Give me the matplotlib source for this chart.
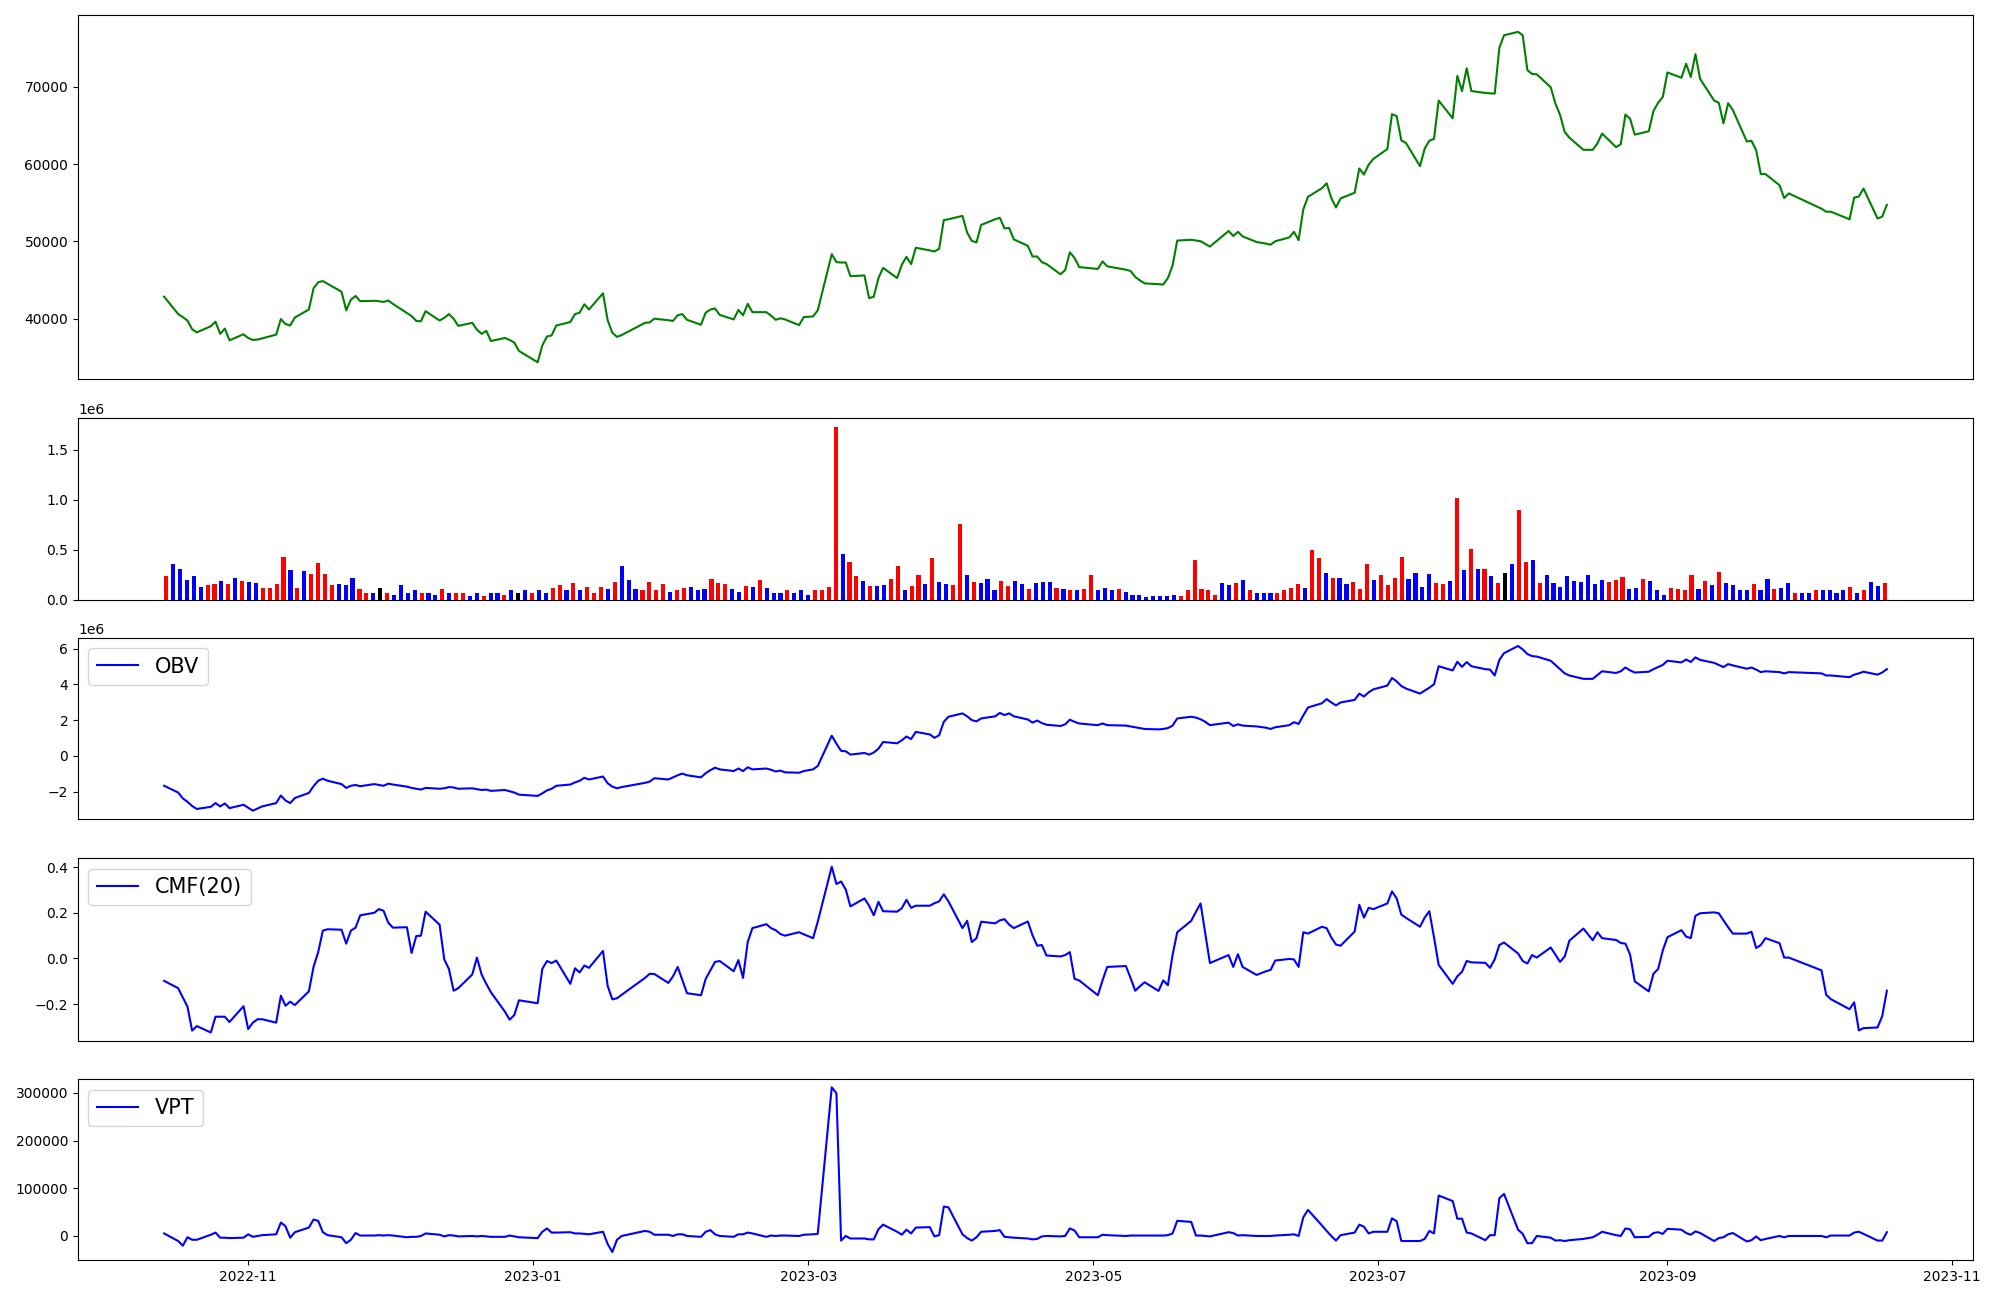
import numpy as np
import pandas as pd
import matplotlib
matplotlib.use("Agg")
import matplotlib.pyplot as plt

# ---------------- calendar (KRX trading days) ----------------
holidays = ["2022-12-30", "2023-01-23", "2023-01-24", "2023-03-01", "2023-05-01",
            "2023-05-05", "2023-05-29", "2023-06-06", "2023-08-15", "2023-09-28",
            "2023-09-29", "2023-10-02", "2023-10-03", "2023-10-09"]
dates = pd.bdate_range("2022-10-14", "2023-10-18")
dates = dates[~dates.isin(pd.to_datetime(holidays))]

# ---------------- close price ----------------
close = [
    42860, 40620, 40220, 39770, 38650, 38250, 39040, 39630, 38060, 38740, 37220, 38010,
    37520, 37270, 37320, 37470, 37960, 39970, 39330, 39140, 40170, 41200, 43940, 44730,
    44880, 44530, 43500, 41100, 42470, 42960, 42280, 42330, 42280, 42180,
    42370, 41930, 40760, 40360, 39730, 39680, 40990, 39780, 40120, 40610, 40020, 39090,
    39480, 38600, 38060, 38450, 37130, 37520, 37270, 36930, 35850,
    34380, 36540, 37720, 37860, 39140, 39580, 40610, 40800, 41880, 41200, 43300, 39820,
    38200, 37670, 37900, 39480, 39530, 40020, 39820, 39730,
    40460, 40610, 39870, 39240, 40800, 41200, 41340, 40510, 39920, 41150, 40460, 41940,
    40860, 40860, 40410, 39870, 40070, 39920, 39190, 40220,
    40310, 41100, 48360, 47330, 47280, 47280, 45510, 45610, 42670, 42860, 45270, 46590,
    45270, 46980, 48010, 47080, 49190, 48850, 48700, 49050, 52770, 52870,
    53310, 51150, 50080, 49880, 52140, 52870, 53070, 51690, 51740, 50270, 49440, 48060,
    48060, 47330, 47080, 45760, 46300, 48600, 47870, 46690,
    46450, 47430, 46790, 46350, 46200, 45420, 44970, 44580, 44480, 44430, 45270, 46890,
    50120, 50220, 50120, 50030, 49680, 49340, 51350, 50710,
    51250, 50660, 49930, 49730, 49580, 50030, 50520, 51250, 50170, 54150, 55770, 56890,
    57530, 55620, 54390, 55570, 56300, 59440, 58660, 59930, 60670,
    61950, 66460, 66210, 63070, 62730, 59740, 61990, 63020, 63270, 68220, 65920, 71410,
    69450, 72390, 69450, 69200, 69160, 69110, 75040, 76660, 77100,
    76660, 72150, 71660, 71610, 69940, 67830, 66360, 64150, 63420, 61850, 61850, 62680,
    63960, 62190, 62580, 66410, 65870, 63810, 64250, 66850, 67930, 68670,
    71850, 71170, 72980, 71260, 74210, 71020, 68220, 67930, 65280, 67880, 67000, 62930,
    63020, 61800, 58710, 58710, 57280, 55620, 56210,
    54240, 53850, 53850, 52870, 55670, 55810, 56840, 52970, 53210, 54740,
]

# ---------------- volume (thousand shares) ----------------
volume_k = [
    238, 359, 310, 200, 238, 129, 148, 159, 189, 159, 219, 189, 178, 170, 117, 117, 159, 428, 299, 117,
    288, 257, 367, 257, 148, 159, 148, 219, 110, 61, 61, 117, 61, 49, 148, 61, 91, 61, 61, 49,
    110, 68, 61, 68, 38, 68, 38, 61, 61, 49, 91, 61, 91, 61, 98, 61, 117, 148, 98, 170,
    91, 129, 68, 129, 110, 178, 337, 200, 110, 91, 178, 91, 159, 79, 98, 117, 129, 98, 110, 208,
    170, 159, 110, 79, 140, 129, 200, 117, 61, 61, 91, 61, 98, 49, 98, 98, 129, 1725, 458, 378,
    238, 189, 140, 140, 148, 208, 337, 98, 140, 250, 159, 416, 178, 159, 148, 757, 250, 178, 170, 208,
    91, 189, 140, 189, 159, 110, 170, 178, 178, 117, 110, 91, 91, 110, 250, 98, 117, 91, 110, 79,
    49, 49, 30, 38, 38, 38, 49, 38, 91, 397, 110, 98, 49, 170, 148, 170, 200, 91, 61, 61,
    68, 68, 98, 117, 159, 117, 500, 416, 269, 219, 219, 159, 178, 110, 359, 200, 250, 148, 219, 428,
    208, 269, 129, 257, 170, 159, 189, 1018, 299, 507, 310, 310, 238, 170, 269, 359, 897, 378, 397, 170,
    250, 170, 129, 238, 189, 178, 250, 159, 200, 178, 200, 227, 110, 117, 208, 189, 98, 49, 117, 110,
    98, 250, 110, 189, 148, 280, 170, 148, 91, 98, 159, 91, 208, 110, 117, 170, 68, 68, 68, 98,
    91, 91, 61, 91, 129, 68, 98, 178, 140, 170,
]

# candle direction of each day (10 days per group):
# u = close above open, d = close below open, f = unchanged
candle_groups = [
    "uddddduudu", "dudduuuudu", "duuuuddduu", "dfuddddudd", "uduudduddu",
    "dfdudduudu", "duuududddu", "uuuduudddu", "uuddududdd", "uddduuuudu",
    "ududduuduu", "dudduududd", "duuddudddu", "duduudddud", "ddddddduuu",
    "uuuddududd", "duuuuduudu", "dduuuduuuu", "dddduududu", "dudufduudu",
    "dddddddddu", "uudduddduu", "uudududddd", "uddudduddu", "ddddududdu",
]
candle = list("".join(candle_groups))

# ---------------- indicators ----------------
obv_m = [
    -1.680, -2.057, -2.387, -2.576, -2.812, -2.977, -2.859, -2.647, -2.835, -2.670, -2.930, -2.741,
    -2.906, -3.071, -2.953, -2.835, -2.647, -2.222, -2.505, -2.647, -2.364, -2.081, -1.703, -1.397,
    -1.279, -1.397, -1.585, -1.798, -1.680, -1.633, -1.703, -1.585, -1.633, -1.680,
    -1.562, -1.609, -1.727, -1.798, -1.845, -1.892, -1.798, -1.845, -1.821, -1.751, -1.774, -1.845,
    -1.821, -1.868, -1.916, -1.892, -1.963, -1.916, -1.986, -2.057, -2.175,
    -2.246, -2.104, -1.939, -1.845, -1.680, -1.609, -1.491, -1.397, -1.232, -1.326, -1.161, -1.538,
    -1.727, -1.821, -1.751, -1.515, -1.444, -1.255, -1.326, -1.208,
    -1.090, -0.996, -1.090, -1.208, -0.972, -0.807, -0.666, -0.760, -0.854, -0.713, -0.854, -0.642,
    -0.760, -0.713, -0.784, -0.878, -0.831, -0.925, -0.949, -0.854,
    -0.760, -0.572, 1.126, 0.678, 0.277, 0.254, 0.065, 0.160, 0.065, 0.183, 0.395, 0.773,
    0.702, 0.867, 1.079, 0.938, 1.339, 1.197, 1.008, 1.150, 1.904, 2.187,
    2.376, 2.211, 1.999, 1.928, 2.093, 2.211, 2.400, 2.282, 2.376, 2.211, 2.034, 1.857,
    1.975, 1.834, 1.739, 1.669, 1.763, 2.022, 1.904, 1.810,
    1.716, 1.810, 1.716, 1.692, 1.645, 1.598, 1.551, 1.504, 1.480, 1.504, 1.551, 1.692,
    2.093, 2.187, 2.140, 2.046, 1.904, 1.716, 1.857, 1.669,
    1.763, 1.692, 1.645, 1.574, 1.504, 1.598, 1.716, 1.881, 1.787, 2.258, 2.706, 2.942,
    3.178, 2.989, 2.824, 2.989, 3.131, 3.484, 3.319, 3.555, 3.720,
    3.932, 4.357, 4.168, 3.909, 3.767, 3.484, 3.649, 3.814, 4.003, 5.017, 4.781, 5.265,
    4.980, 5.253, 5.017, 4.852, 4.828, 4.498, 5.371, 5.748, 6.149,
    5.960, 5.701, 5.583, 5.559, 5.323, 5.088, 4.852, 4.616, 4.498, 4.310, 4.310, 4.522,
    4.734, 4.640, 4.734, 4.946, 4.781, 4.663, 4.710, 4.852, 4.970, 5.088,
    5.323, 5.229, 5.394, 5.253, 5.512, 5.371, 5.206, 5.088, 4.970, 5.135, 5.064, 4.876,
    4.946, 4.828, 4.687, 4.734, 4.687, 4.616, 4.687,
    4.616, 4.498, 4.498, 4.404, 4.545, 4.616, 4.710, 4.545, 4.663, 4.852,
]

cmf20 = [
    -0.098, -0.130, -0.170, -0.211, -0.316, -0.296, -0.324, -0.255, -0.255, -0.255, -0.278, -0.209,
    -0.309, -0.281, -0.266, -0.266, -0.281, -0.163, -0.207, -0.189, -0.204, -0.144, -0.037, 0.028,
    0.122, 0.128, 0.126, 0.065, 0.122, 0.135, 0.189, 0.200, 0.216, 0.209,
    0.157, 0.135, 0.137, 0.024, 0.098, 0.100, 0.205, 0.148, -0.004, -0.046, -0.141, -0.130,
    -0.070, 0.004, -0.070, -0.111, -0.148, -0.233, -0.268, -0.248, -0.183,
    -0.196, -0.046, -0.011, -0.020, -0.009, -0.111, -0.043, -0.061, -0.031, -0.041, 0.033, -0.120,
    -0.179, -0.174, -0.159, -0.085, -0.067, -0.068, -0.107, -0.078,
    -0.037, -0.094, -0.152, -0.161, -0.089, -0.052, -0.015, -0.011, -0.056, -0.007, -0.085, 0.072,
    0.133, 0.150, 0.133, 0.124, 0.107, 0.100, 0.115, 0.106,
    0.089, 0.161, 0.402, 0.326, 0.337, 0.302, 0.228, 0.263, 0.231, 0.189, 0.248, 0.207,
    0.205, 0.220, 0.257, 0.222, 0.231, 0.231, 0.242, 0.250, 0.281, 0.250,
    0.133, 0.165, 0.072, 0.089, 0.161, 0.154, 0.167, 0.172, 0.148, 0.133, 0.162, 0.102,
    0.056, 0.059, 0.013, 0.009, 0.015, 0.028, -0.089, -0.096,
    -0.161, -0.096, -0.037, -0.033, -0.085, -0.141, -0.122, -0.104, -0.142, -0.096, -0.117, 0.015,
    0.115, 0.165, 0.204, 0.241, 0.111, -0.020, 0.015, -0.037,
    0.019, -0.037, -0.072, -0.056, -0.050, -0.009, -0.002, -0.004, -0.037, 0.115, 0.109, 0.139,
    0.133, 0.092, 0.061, 0.056, 0.118, 0.235, 0.179, 0.222, 0.216,
    0.241, 0.294, 0.263, 0.192, 0.178, 0.139, 0.179, 0.207, 0.093, -0.028, -0.111, -0.078,
    -0.058, -0.011, -0.017, -0.019, -0.041, -0.004, 0.059, 0.070, 0.022,
    -0.011, -0.022, 0.015, 0.004, 0.048, 0.017, -0.015, 0.009, 0.078, 0.131, 0.080, 0.115,
    0.089, 0.081, 0.068, 0.065, 0.017, -0.100, -0.144, -0.067, -0.046, 0.035,
    0.093, 0.124, 0.096, 0.089, 0.187, 0.198, 0.202, 0.198, 0.167, 0.137, 0.109, 0.109,
    0.117, 0.046, 0.059, 0.089, 0.067, 0.004, 0.004,
    -0.052, -0.159, -0.178, -0.222, -0.192, -0.315, -0.305, -0.302, -0.253, -0.141,
]

vpt_k = [
    5.1, -10.8, -20.6, -2.9, -8.2, -8.2, 2.4, 6.9, -3.8, -3.8, -4.7, -3.8,
    3.3, -2.0, -0.2, 1.5, 3.3, 28.0, 20.1, -3.8, 7.7, 17.4, 34.2, 31.6,
    7.7, 1.5, -2.9, -15.3, -8.2, 6.0, 0.7, 0.7, 1.5, 0.7,
    1.5, 0.7, -2.9, -2.0, -2.0, -0.2, 5.1, 2.4, -1.1, 1.5, 0.7, -1.1,
    -0.2, -1.1, -0.2, -1.1, -2.0, -2.0, 0.7, -1.1, -2.9,
    -4.7, 8.6, 15.6, 6.9, 6.9, 7.7, 5.1, 5.1, 4.2, 3.3, 8.6, -17.0,
    -33.8, -8.2, -0.2, 10.4, 8.6, 2.4, 2.4, -0.2,
    3.3, 3.3, -0.2, -2.0, 8.6, 12.1, 3.3, -0.2, -2.0, 3.3, 3.3, 6.9,
    5.1, -2.0, 0.7, -0.2, 0.7, 0.7, -0.2, 2.4,
    3.3, 4.2, 311.6, 299.3, -9.9, -0.2, -5.5, -5.5, -7.3, -7.3, 13.9, 23.6,
    8.6, 2.4, 13.0, 5.1, 17.4, 18.3, -1.1, 1.5, 61.6, 59.8,
    3.3, -4.7, -9.9, -2.9, 8.6, 10.4, 12.1, -2.0, -2.9, -3.8, -5.5, -7.3,
    -6.4, -1.1, -0.2, -1.1, -0.2, 15.6, 11.3, -2.9,
    -2.9, 2.4, 1.5, -0.2, 0.7, 0.7, 0.7, 0.7, 0.7, 0.7, 1.5, 5.1,
    31.6, 29.3, 0.7, 0.7, -0.2, -1.1, 7.7, 6.0,
    0.7, 1.5, -0.2, -0.2, -0.2, 0.7, 2.4, 3.3, -0.2, 38.7, 54.5, 21.8,
    10.4, -0.2, -9.9, 1.5, 6.9, 23.6, 19.2, 5.1, 8.6,
    8.6, 36.9, 30.7, -10.8, -10.8, -10.8, -6.4, 10.4, 5.1, 84.6, 73.1, 36.0,
    36.0, 6.9, 5.1, -9.1, 1.5, 1.5, 79.3, 88.1, 13.0,
    4.2, -15.3, -15.3, -0.2, -3.8, -9.9, -9.1, -10.8, -9.1, -6.4, -2.9, 2.4,
    8.6, 1.5, -0.2, 15.6, 13.9, -2.9, -2.0, 6.0, 7.7, 4.2,
    14.8, 13.0, 6.0, 2.4, 9.5, 6.0, -10.8, -4.7, -2.9, 3.3, 6.0, -11.7,
    -9.1, -1.1, -9.1, -6.4, -0.2, -2.9, -0.2,
    -0.2, -2.9, 0.7, 0.7, 6.9, 8.6, 4.2, -9.9, -9.9, 7.7,
]

n = len(dates)
print(n, len(close), len(volume_k), len(candle), len(obv_m), len(cmf20), len(vpt_k))

colour_of = {"u": "red", "d": "blue", "f": "black"}
bar_colors = [colour_of[c] for c in candle]

fig = plt.figure(figsize=(20, 13), dpi=100)
L, W = 0.039, 0.9475
ax1 = fig.add_axes([L, 0.7086, W, 0.2796])
ax2 = fig.add_axes([L, 0.5388, W, 0.1393])
ax3 = fig.add_axes([L, 0.3701, W, 0.1393])
ax4 = fig.add_axes([L, 0.1994, W, 0.1403])
ax5 = fig.add_axes([L, 0.0306, W, 0.1393])

ax1.plot(dates, close, color="green")
ax2.bar(np.arange(n), np.array(volume_k) * 1000, width=0.6, color=bar_colors)
ax3.plot(dates, np.array(obv_m) * 1e6, color="blue", label="OBV")
ax4.plot(dates, cmf20, color="blue", label="CMF(20)")
ax5.plot(dates, np.array(vpt_k) * 1000, color="blue", label="VPT")

for ax in (ax3, ax4, ax5):
    ax.legend(loc="upper left", fontsize=15)
for ax in (ax1, ax2, ax3, ax4):
    ax.tick_params(axis="x", bottom=False, labelbottom=False)

fig.savefig("out.png", dpi=100)
